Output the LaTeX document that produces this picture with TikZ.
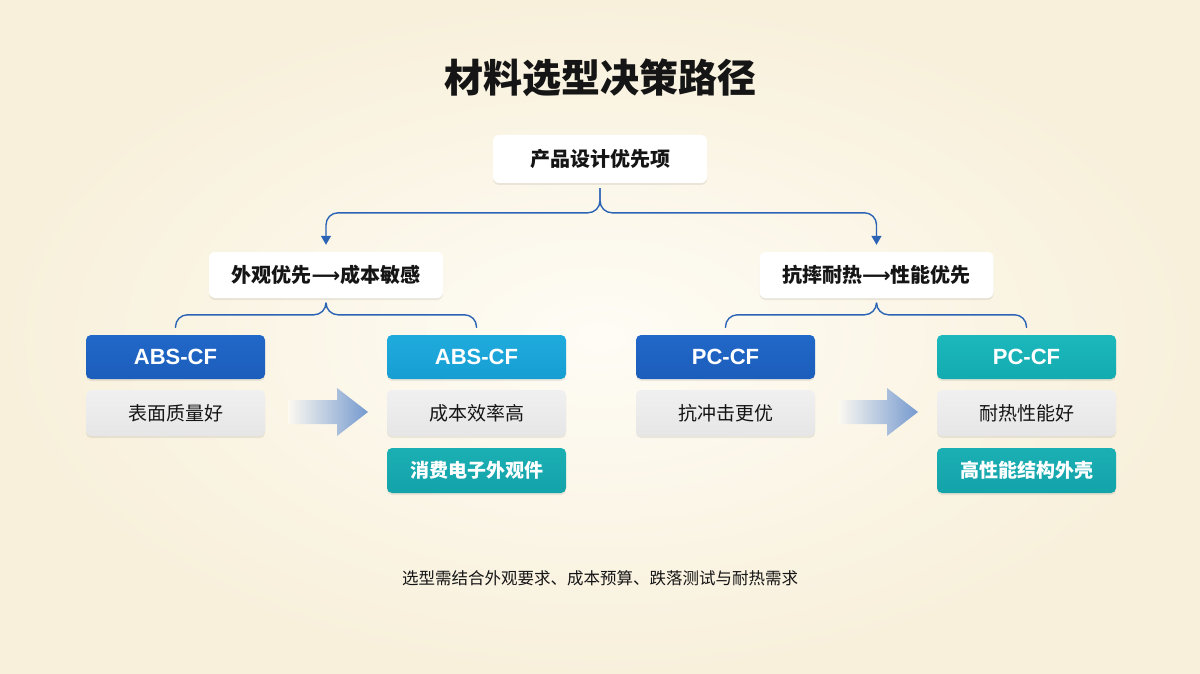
\documentclass[tikz,border=0pt]{standalone}
\usepackage{fontspec}
\setmainfont{Noto Sans CJK SC}
\newfontfamily\symfont{DejaVu Sans}
\newfontfamily\latinfont{Liberation Sans}
\usetikzlibrary{shadows,arrows.meta,calc}
\definecolor{bgA}{HTML}{FEFCF5}
\definecolor{bgB}{HTML}{F8F0DB}
\definecolor{conn}{HTML}{2B63B5}
\definecolor{blueA}{HTML}{2168C8}
\definecolor{blueB}{HTML}{1C5DBB}
\definecolor{cyanA}{HTML}{20ABDD}
\definecolor{cyanB}{HTML}{169ED2}
\definecolor{tealA}{HTML}{1CB8BC}
\definecolor{tealB}{HTML}{12ABB0}
\definecolor{teal2A}{HTML}{1BAFB3}
\definecolor{teal2B}{HTML}{13A3AA}
\definecolor{greyA}{HTML}{F0F0F0}
\definecolor{greyB}{HTML}{E6E6E6}
\definecolor{ink}{HTML}{151515}
\begin{document}
\begin{tikzpicture}[x=1pt,y=-1pt,
  shadowed/.style={drop shadow={shadow xshift=0pt,shadow yshift=-2pt,opacity=0.07,fill=black}},
  whitebox/.style={shadowed,rounded corners=6pt,fill=white,inner sep=0pt,text=ink,font=\fontsize{20}{24}\selectfont\bfseries},
  head/.style={shadowed,rounded corners=5pt,inner sep=0pt,minimum width=179pt,minimum height=44pt,text=white,font=\latinfont\fontsize{22}{24}\selectfont\bfseries},
  greybox/.style={shadowed,rounded corners=5pt,inner sep=0pt,minimum width=179pt,minimum height=46pt,top color=greyA,bottom color=greyB,text=ink,font=\fontsize{19}{22}\selectfont},
  tealbox/.style={shadowed,rounded corners=5pt,inner sep=0pt,minimum width=179pt,minimum height=45pt,top color=teal2A,bottom color=teal2B,text=white,font=\fontsize{19}{22}\selectfont\bfseries},
  link/.style={draw=conn,line width=1.4pt,rounded corners=12pt},
  tip/.style={-{Triangle[length=9pt,width=10pt]}},
  fadearrow/.style={left color=bgB!40!white,right color=conn!65!white},
]
% background
\shade[inner color=bgA,outer color=bgB] (0,0) rectangle (1200,674);
\useasboundingbox (0,0) rectangle (1200,674);

% title
\node[text=ink,font=\fontsize{39}{44}\selectfont\bfseries] (title) at (600,78) {材料选型决策路径};

% top
\node[whitebox,minimum width=214pt,minimum height=48pt] (top) at (600,159) {产品设计优先项};

% level 2
\node[whitebox,minimum width=234pt,minimum height=46pt] (l2a) at (326,275) {外观优先{\symfont\fontsize{20}{24}\selectfont ⟶}成本敏感};
\node[whitebox,minimum width=234pt,minimum height=46pt] (l2b) at (876.5,275) {抗摔耐热{\symfont\fontsize{20}{24}\selectfont ⟶}性能优先};

% headers
\node[head,top color=blueA,bottom color=blueB] (h1) at (175.5,357) {ABS-CF};
\node[head,top color=cyanA,bottom color=cyanB] (h2) at (476.5,357) {ABS-CF};
\node[head,top color=blueA,bottom color=blueB] (h3) at (725.5,357) {PC-CF};
\node[head,top color=tealA,bottom color=tealB] (h4) at (1026.5,357) {PC-CF};

% grey boxes
\node[greybox] (g1) at (175.5,413) {表面质量好};
\node[greybox] (g2) at (476.5,413) {成本效率高};
\node[greybox] (g3) at (725.5,413) {抗冲击更优};
\node[greybox] (g4) at (1026.5,413) {耐热性能好};

% teal boxes
\node[tealbox] (t2) at (476.5,470.5) {消费电子外观件};
\node[tealbox] (t4) at (1026.5,470.5) {高性能结构外壳};

% connectors from top
\coordinate (j0) at ($(top.south)+(0,5)$);
\draw[link,tip] (j0) |- ($(l2a.north)+(0,-39)$) -- ($(l2a.north)+(0,-7)$);
\draw[link,tip] (j0) |- ($(l2b.north)+(0,-39)$) -- ($(l2b.north)+(0,-7)$);

% brackets under level 2
\coordinate (ja) at ($(l2a.south)+(0,5)$);
\draw[link] (ja) |- ($(h1.north)+(0,-20)$) -- ($(h1.north)+(0,-7)$);
\draw[link] (ja) |- ($(h2.north)+(0,-20)$) -- ($(h2.north)+(0,-7)$);
\coordinate (jb) at ($(l2b.south)+(0,5)$);
\draw[link] (jb) |- ($(h3.north)+(0,-20)$) -- ($(h3.north)+(0,-7)$);
\draw[link] (jb) |- ($(h4.north)+(0,-20)$) -- ($(h4.north)+(0,-7)$);

% gradient arrows
\shade[fadearrow] (288,400) -- (337,400) -- (337,388) -- (368,412) -- (337,436) -- (337,424) -- (288,424) -- cycle;
\shade[fadearrow] (838,400) -- (887,400) -- (887,388) -- (918,412) -- (887,436) -- (887,424) -- (838,424) -- cycle;

% footnote
\node[text=ink,font=\fontsize{16.5}{20}\selectfont] (note) at (600,578) {选型需结合外观要求、成本预算、跌落测试与耐热需求};
\end{tikzpicture}
\end{document}
